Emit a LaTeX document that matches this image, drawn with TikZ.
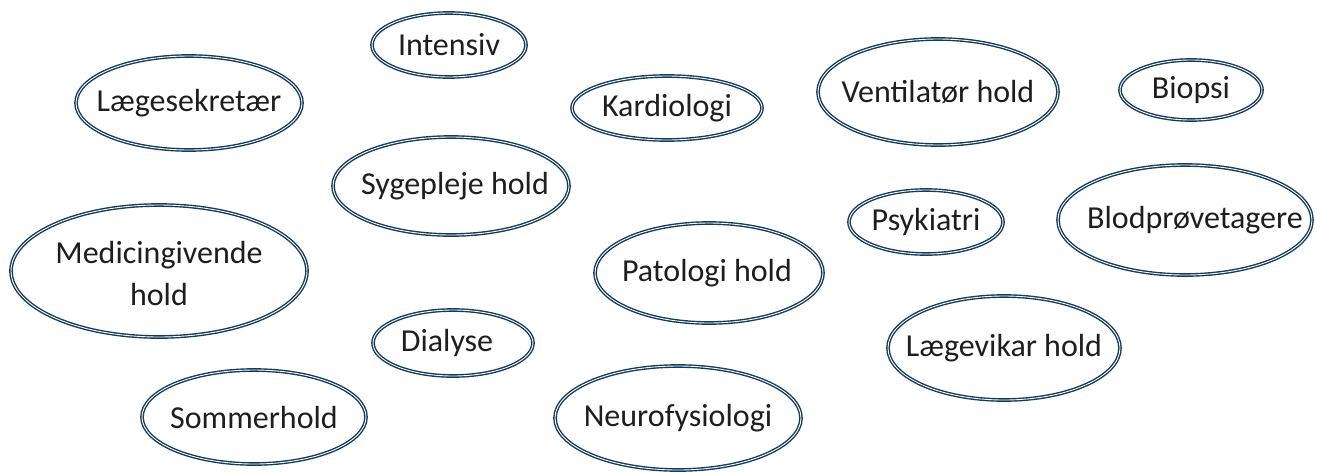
\documentclass[tikz,border=0pt]{standalone}
\usepackage{fontspec}
\setmainfont{Carlito}
\usepackage{tikz}
\usetikzlibrary{shapes}

\definecolor{ringblue}{RGB}{18,58,92}
\definecolor{inkgrey}{RGB}{30,30,30}

\tikzset{
	team/.style={text=inkgrey, align=center, inner sep=0pt,
		font=\fontsize{32}{42}\selectfont},
	ring/.style={draw=ringblue, line width=1.4pt, double=white, double distance=0.9pt}
}

\begin{document}
\begin{tikzpicture}[x=1pt, y=-1pt]
		\useasboundingbox (0,0) rectangle (1321,474);
		% hold og afdelinger
		\node[team] (intensiv) at (449,45) {Intensiv};
		\node[team] (sekretaer) at (189,103) {Lægesekretær};
		\node[team] (kardio) at (667,108) {Kardiologi};
		\node[team] (ventilator) at (938,92) {Ventilatør hold};
		\node[team] (biopsi) at (1191,90) {Biopsi};
		\node[team] (sygepleje) at (455,186) {Sygepleje hold};
		\node[team] (psyk) at (926,222) {Psykiatri};
		\node[team] (blodprove) at (1195,220) {Blodprøvetagere};
		\node[team] (medicin) at (159,273) {Medicingivende\\hold};
		\node[team] (patologi) at (707,273) {Patologi hold};
		\node[team] (dialyse) at (447,343) {Dialyse};
		\node[team] (vikar) at (1004,348) {Lægevikar hold};
		\node[team] (sommer) at (254,417) {Sommerhold};
		\node[team] (neuro) at (678,418) {Neurofysiologi};
		% ringe
		\draw[ring] (intensiv.center) ellipse [x radius=77, y radius=32];
		\draw[ring] (sekretaer.center) ellipse [x radius=113, y radius=47];
		\draw[ring] (kardio.center) ellipse [x radius=95, y radius=32];
		\draw[ring] (ventilator.center) ellipse [x radius=120, y radius=53];
		\draw[ring] (biopsi.center) ellipse [x radius=71, y radius=30];
		\draw[ring] ([xshift=-4pt]sygepleje.center) ellipse [x radius=118, y radius=49];
		\draw[ring] (psyk.center) ellipse [x radius=77, y radius=32];
		\draw[ring] ([xshift=-10pt]blodprove.center) ellipse [x radius=127, y radius=55];
		\draw[ring] ([yshift=2pt]medicin.center) ellipse [x radius=148, y radius=66];
		\draw[ring] ([xshift=2pt]patologi.center) ellipse [x radius=114, y radius=50];
		\draw[ring] ([xshift=6pt]dialyse.center) ellipse [x radius=80, y radius=33];
		\draw[ring] (vikar.center) ellipse [x radius=116, y radius=52];
		\draw[ring] (sommer.center) ellipse [x radius=112, y radius=47];
		\draw[ring] (neuro.center) ellipse [x radius=123, y radius=52];
\end{tikzpicture}
\end{document}
